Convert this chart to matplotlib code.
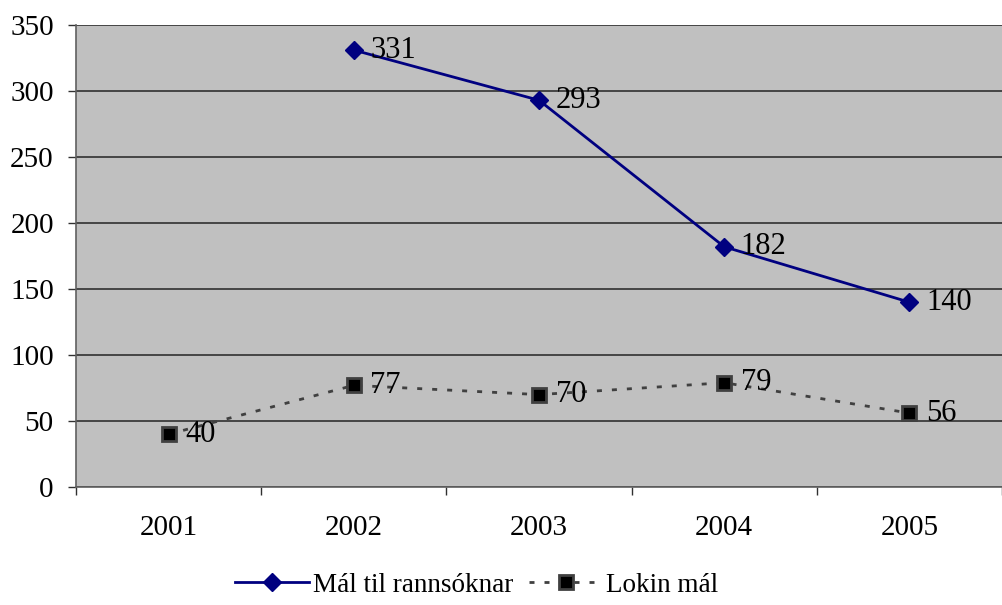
import numpy as np
import matplotlib.pyplot as plt

years = ['2001', '2002', '2003', '2004', '2005']
mal_til = [np.nan, 331, 293, 182, 140]
lokin = [40, 77, 70, 79, 56]

plt.rcParams['font.family'] = ['Liberation Serif', 'DejaVu Serif']

fig = plt.figure(figsize=(10.02, 6.05), dpi=100)
ax = fig.add_axes([76 / 1002, 1 - 487 / 605, 1 - 76 / 1002, (487 - 25) / 605])
ax.set_facecolor('#c0c0c0')

x = np.arange(len(years))

ax.plot(x, mal_til, color='#000080', lw=2, marker='D', ms=9.5,
        mfc='#000080', mec='#000080', label='Mál til rannsóknar', zorder=3)
ax.plot(x, lokin, color='#404040', lw=2, ls=(0, (1.8, 3.6)), marker='s', ms=9.5,
        mfc='black', mec='#404040', mew=2, label='Lokin mál', zorder=3)

for xi, v in zip(x, mal_til):
    if not np.isnan(v):
        ax.annotate(str(int(v)), (xi, v), xytext=(12, 0), textcoords='offset points',
                    va='center', ha='left', fontsize=22)
for xi, v in zip(x, lokin):
    ax.annotate(str(v), (xi, v), xytext=(12, 0), textcoords='offset points',
                va='center', ha='left', fontsize=22)

ax.set_xlim(-0.5, 4.5)
ax.set_ylim(0, 350)
ax.set_yticks(np.arange(0, 351, 50))
ax.yaxis.grid(True, color='#303030', lw=1.2)
ax.set_axisbelow(True)

ax.set_xticks(np.arange(-0.5, 4.6, 1))
ax.set_xticklabels([])
ax.set_xticks(x, minor=True)
ax.set_xticklabels(years, minor=True)
ax.tick_params(axis='x', which='major', length=6, width=1, color='#303030', direction='out')
ax.tick_params(axis='x', which='minor', length=0, pad=20, labelsize=21)
ax.tick_params(axis='y', length=6, width=1, color='#303030', pad=10, labelsize=21)

for s in ['top', 'right']:
    ax.spines[s].set_visible(False)
for s in ['left', 'bottom']:
    ax.spines[s].set_color('#606060')
    ax.spines[s].set_linewidth(1.2)

fig.legend(loc='center', bbox_to_anchor=(0.476, 1 - 585 / 605), ncol=2, frameon=False,
           fontsize=19.5, handlelength=2.7, handletextpad=0.15, columnspacing=0.6,
           borderpad=0)

fig.savefig('out.png', dpi=100)
